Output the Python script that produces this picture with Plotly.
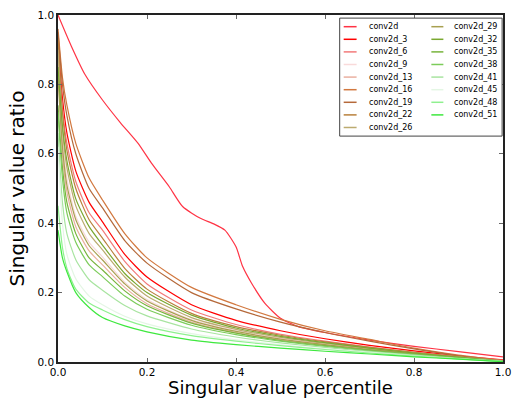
import plotly.graph_objects as go

# ---- data ----
names = ["conv2d", "conv2d_3", "conv2d_6", "conv2d_9", "conv2d_13", "conv2d_16",
         "conv2d_19", "conv2d_22", "conv2d_26", "conv2d_29", "conv2d_32", "conv2d_35",
         "conv2d_38", "conv2d_41", "conv2d_45", "conv2d_48", "conv2d_51"]

colors = ["#ff3344", "#ff0000", "#f27a7a", "#f9dada", "#eab0a0", "#d2783f",
          "#b5693a", "#b9803c", "#bcab70", "#a8a050", "#7aa830", "#78b43c",
          "#7ccc5a", "#a8e4a0", "#e4f6e4", "#8ff08f", "#3ee83e"]

# first layer (conv2d) has its own sampling
x_first = [0, 0.03, 0.06, 0.1, 0.14, 0.18, 0.21, 0.25, 0.28, 0.32, 0.35, 0.375,
           0.40, 0.415, 0.435, 0.465, 0.5, 0.54, 0.6, 0.7, 0.8, 0.9, 1.0]
y_first = [1.0, 0.91, 0.83, 0.755, 0.69, 0.63, 0.573, 0.505, 0.448, 0.414, 0.398, 0.38,
           0.332, 0.275, 0.227, 0.169, 0.126, 0.102, 0.085, 0.063, 0.045, 0.03, 0.015]

x_pct = [0, 0.01, 0.02, 0.04, 0.07, 0.1, 0.15, 0.2, 0.3, 0.4, 0.5, 0.6, 0.7, 0.8, 0.9, 1.0]

y_conv2d_3  = [0.92, 0.76, 0.66, 0.55, 0.46, 0.404, 0.31, 0.245, 0.165, 0.12, 0.09, 0.067, 0.048, 0.032, 0.018, 0.006]
y_conv2d_6  = [0.90, 0.73, 0.63, 0.52, 0.43, 0.38, 0.29, 0.225, 0.15, 0.108, 0.08, 0.06, 0.043, 0.028, 0.016, 0.005]
y_conv2d_9  = [0.88, 0.64, 0.53, 0.42, 0.345, 0.303, 0.23, 0.18, 0.122, 0.09, 0.068, 0.052, 0.038, 0.025, 0.013, 0.003]
y_conv2d_13 = [0.87, 0.60, 0.49, 0.39, 0.32, 0.28, 0.215, 0.168, 0.115, 0.085, 0.064, 0.049, 0.035, 0.023, 0.012, 0.003]
y_conv2d_16 = [0.96, 0.82, 0.74, 0.63, 0.53, 0.467, 0.37, 0.30, 0.215, 0.165, 0.123, 0.09, 0.065, 0.04, 0.02, 0.004]
y_conv2d_19 = [0.95, 0.80, 0.71, 0.60, 0.50, 0.444, 0.35, 0.285, 0.20, 0.153, 0.115, 0.085, 0.06, 0.038, 0.018, 0.003]
y_conv2d_22 = [0.93, 0.72, 0.61, 0.50, 0.41, 0.357, 0.27, 0.21, 0.14, 0.102, 0.077, 0.058, 0.042, 0.028, 0.015, 0.003]
y_conv2d_26 = [0.90, 0.67, 0.56, 0.45, 0.37, 0.323, 0.245, 0.19, 0.128, 0.094, 0.071, 0.054, 0.039, 0.026, 0.014, 0.003]
y_conv2d_29 = [0.82, 0.62, 0.51, 0.41, 0.335, 0.294, 0.225, 0.176, 0.12, 0.088, 0.066, 0.05, 0.036, 0.024, 0.012, 0.002]
y_conv2d_32 = [0.85, 0.68, 0.58, 0.47, 0.39, 0.337, 0.255, 0.20, 0.135, 0.098, 0.074, 0.056, 0.04, 0.026, 0.014, 0.002]
y_conv2d_35 = [0.74, 0.56, 0.46, 0.37, 0.30, 0.265, 0.205, 0.162, 0.112, 0.083, 0.062, 0.047, 0.034, 0.022, 0.011, 0.002]
y_conv2d_38 = [0.72, 0.53, 0.43, 0.345, 0.28, 0.246, 0.19, 0.152, 0.106, 0.079, 0.06, 0.045, 0.032, 0.021, 0.011, 0.002]
y_conv2d_41 = [0.66, 0.46, 0.37, 0.295, 0.237, 0.207, 0.163, 0.133, 0.095, 0.072, 0.055, 0.042, 0.03, 0.02, 0.01, 0.002]
y_conv2d_45 = [0.62, 0.40, 0.31, 0.24, 0.19, 0.165, 0.132, 0.11, 0.082, 0.064, 0.05, 0.038, 0.028, 0.018, 0.009, 0.001]
y_conv2d_48 = [0.45, 0.33, 0.27, 0.21, 0.17, 0.150, 0.122, 0.102, 0.076, 0.06, 0.047, 0.036, 0.026, 0.017, 0.009, 0.001]
y_conv2d_51 = [0.38, 0.30, 0.26, 0.20, 0.157, 0.128, 0.104, 0.087, 0.063, 0.05, 0.04, 0.031, 0.023, 0.015, 0.008, 0.001]

series_y = [y_first, y_conv2d_3, y_conv2d_6, y_conv2d_9, y_conv2d_13, y_conv2d_16,
            y_conv2d_19, y_conv2d_22, y_conv2d_26, y_conv2d_29, y_conv2d_32, y_conv2d_35,
            y_conv2d_38, y_conv2d_41, y_conv2d_45, y_conv2d_48, y_conv2d_51]
series_x = [x_first] + [x_pct] * 16

tick_vals = [0.0, 0.2, 0.4, 0.6, 0.8, 1.0]
tick_text = ["0.0", "0.2", "0.4", "0.6", "0.8", "1.0"]

x_title = "Singular value percentile"
y_title = "Singular value ratio"

# ---- figure ----
FONT = "DejaVu Sans"
fig = go.Figure()
for nm, col, xs, ys in zip(names, colors, series_x, series_y):
    fig.add_trace(go.Scatter(x=xs, y=ys, mode="lines", name=nm,
                             line=dict(color=col, width=1.2, shape="spline", smoothing=0.6),
                             showlegend=False))

axis_common = dict(range=[0, 1], tickvals=tick_vals, ticktext=tick_text,
                   showgrid=False, zeroline=False, showline=True, mirror="allticks",
                   linecolor="#222", linewidth=1.5, ticks="inside", ticklen=4,
                   tickwidth=1, tickcolor="#666", automargin=False,
                   tickfont=dict(family=FONT, size=10.5, color="#000"))

fig.update_xaxes(**axis_common)
fig.update_yaxes(**axis_common,
                 title=dict(text=y_title,
                            font=dict(family=FONT, size=20, color="#000"), standoff=7))

# x-axis title placed just under the tick labels, flush with the bottom edge
fig.add_annotation(xref="paper", yref="paper", x=0.5, y=-0.1095, text=x_title,
                   showarrow=False, xanchor="center", yanchor="bottom",
                   font=dict(family=FONT, size=18, color="#000"))

# legend box (two columns) drawn in paper coordinates
fig.add_shape(type="rect", xref="paper", yref="paper", x0=0.633, x1=0.998, y0=0.651, y1=0.991,
              line=dict(color="#444", width=1), fillcolor="white", layer="above")
rows = 9
for i, (nm, col) in enumerate(zip(names, colors)):
    c, r = divmod(i, rows)
    yy = 0.9663 - 0.03631 * r
    lx0, lx1, tx = (0.642, 0.671, 0.6935) if c == 0 else (0.839, 0.866, 0.886)
    fig.add_shape(type="line", xref="paper", yref="paper", x0=lx0, x1=lx1, y0=yy, y1=yy,
                  line=dict(color=col, width=1.5), layer="above")
    fig.add_annotation(xref="paper", yref="paper", x=tx, y=yy, text=nm, showarrow=False,
                       xanchor="left", yanchor="middle",
                       font=dict(family=FONT, size=8, color="#000"))

fig.update_layout(width=513, height=400, margin=dict(l=58, r=10, t=15, b=38),
                  paper_bgcolor="white", plot_bgcolor="white",
                  font=dict(family=FONT))

fig.write_html("out.html")
